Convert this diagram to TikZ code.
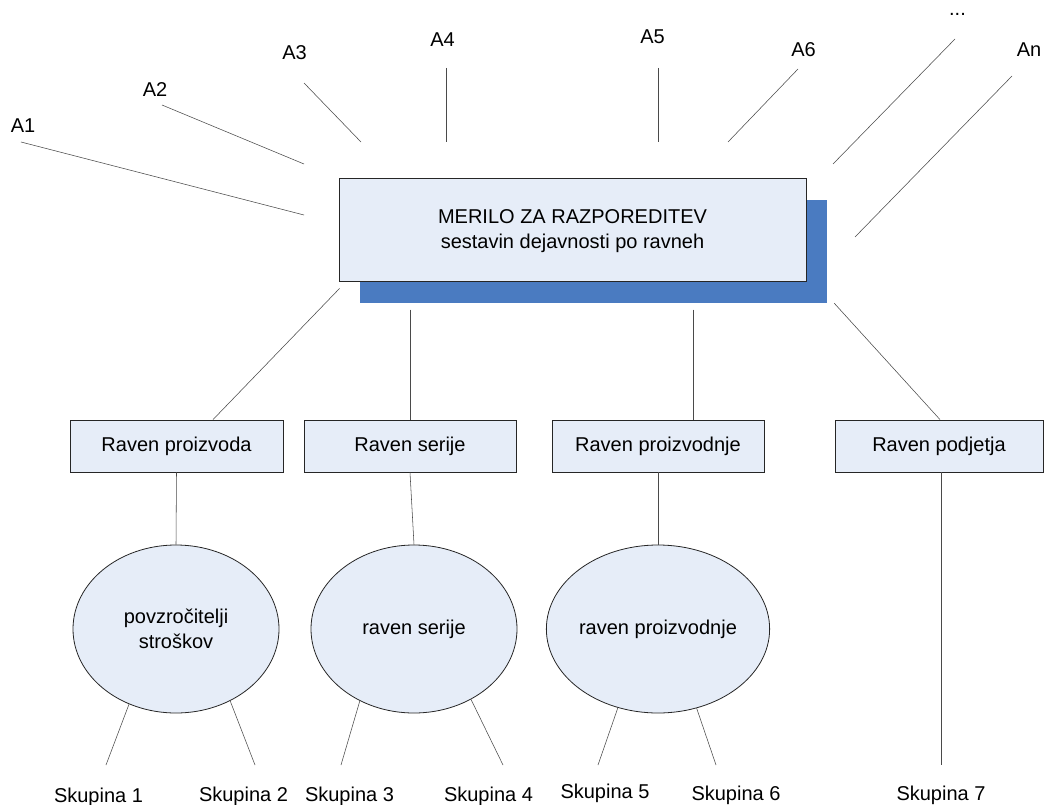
\documentclass[tikz,border=0pt]{standalone}
\usepackage{fontspec}
\setmainfont{Liberation Sans}
\usetikzlibrary{shapes.geometric,calc}
\definecolor{boxfill}{HTML}{E6EDF8}
\definecolor{shadowblue}{HTML}{4A7BC1}
\definecolor{linegray}{HTML}{4A4A4A}
\begin{document}
\begin{tikzpicture}[x=1pt,y=-1pt,
  every node/.style={font=\fontsize{20}{25}\selectfont},
  levelbox/.style={draw=black!85, line width=0.8pt, fill=boxfill,
    minimum height=52pt, inner sep=0pt},
  driver/.style={ellipse, draw=black!85, line width=0.8pt, fill=boxfill,
    minimum width=206pt, minimum height=168pt, inner sep=0pt, align=center},
  link/.style={draw=linegray, line width=0.55pt},
  lbl/.style={inner sep=0pt, anchor=base}]
\useasboundingbox (0,0) rectangle (1044,805);

% central criterion box with its blue drop shadow
\node[fill=shadowblue, minimum width=467pt, minimum height=103pt, inner sep=0pt]
  (shadow) at (593.5,251.5) {};
\node[levelbox, minimum width=467pt, minimum height=103pt] (main) at (572.5,229.5) {};
\node[align=center, inner sep=0pt] (maintext) at (572.5,231.5)
  {MERILO ZA RAZPOREDITEV\\sestavin dejavnosti po ravneh};

% activity labels around the top
\node[lbl] (a1) at (23,133) {A1};
\node[lbl] (a2) at (155,97) {A2};
\node[lbl] (a3) at (294.5,60) {A3};
\node[lbl] (a4) at (442.5,47) {A4};
\node[lbl] (a5) at (652.5,44) {A5};
\node[lbl] (a6) at (803.5,57) {A6};
\node[lbl] (adots) at (957.5,16) {...};
\node[lbl] (an) at (1029,57) {An};

\coordinate (a1s) at (21,142);   \coordinate (a1e) at (304,215);
\coordinate (a2s) at (162,105);  \coordinate (a2e) at (304,164);
\coordinate (a3s) at (304,83);   \coordinate (a3e) at (361,142);
\coordinate (a4s) at (446,68);   \coordinate (a4e) at (446,142);
\coordinate (a5s) at (658,68);   \coordinate (a5e) at (658,142);
\coordinate (a6s) at (798,69);   \coordinate (a6e) at (728,142);
\coordinate (ads) at (955,39);   \coordinate (ade) at (833,164);
\coordinate (ans) at (1012,76);  \coordinate (ane) at (855,237);
\foreach \p in {a1,a2,a3,a4,a5,a6,ad,an}
  \draw[link] (\p s) -- (\p e);

% hierarchy levels
\node[levelbox, minimum width=213pt] (rp)  at (176.5,446) {Raven proizvoda};
\node[levelbox, minimum width=212pt] (rs)  at (410,446)   {Raven serije};
\node[levelbox, minimum width=212pt] (rpn) at (658,446)   {Raven proizvodnje};
\node[levelbox, minimum width=208pt] (rpj) at (939,446)   {Raven podjetja};

\draw[link] ($(main.south west)+(1,7)$) -- ($(rp.north)+(36.5,0)$);
\draw[link] ($(rs.north)+(0,-110)$) -- (rs.north);
\draw[link] ($(rpn.north)+(35,-110)$) -- ($(rpn.north)+(35,0)$);
\draw[link] ($(shadow.south east)+(7,0)$) -- ($(rpj.north)+(1,0)$);

% cost drivers
\node[driver] (e1) at (176,629) {povzročitelji\\stroškov};
\node[driver] (e2) at (414,629) {raven serije};
\node[driver] (e3) at (658,629) {raven proizvodnje};

\draw[link] (rp.south) -- (e1.north);
\draw[link] (rs.south) -- (e2.north);
\draw[link] (rpn.south) -- (e3.north);

% groups
\node[lbl] (s1) at (98.5,802) {Skupina 1};
\node[lbl] (s2) at (243.5,801) {Skupina 2};
\node[lbl] (s3) at (349.5,801) {Skupina 3};
\node[lbl] (s4) at (488.5,801) {Skupina 4};
\node[lbl] (s5) at (605,798) {Skupina 5};
\node[lbl] (s6) at (736,800) {Skupina 6};
\node[lbl] (s7) at (941,800) {Skupina 7};

\coordinate (s1t) at (106,765);
\coordinate (s2t) at (255,765);
\coordinate (s3t) at (341,765);
\coordinate (s4t) at (503,765);
\coordinate (s5t) at (598,765);
\coordinate (s6t) at (716,765);
\coordinate (s7t) at (941,765);

\draw[link] (e1.238.4) -- (s1t);
\draw[link] (e1.307.5) -- (s2t);
\draw[link] (e2.233.4) -- (s3t);
\draw[link] (e2.309.7) -- (s4t);
\draw[link] (e3.243.1) -- (s5t);
\draw[link] (e3.296.9) -- (s6t);
\draw[link] ($(rpj.south)+(2,0)$) -- (s7t);
\end{tikzpicture}
\end{document}
